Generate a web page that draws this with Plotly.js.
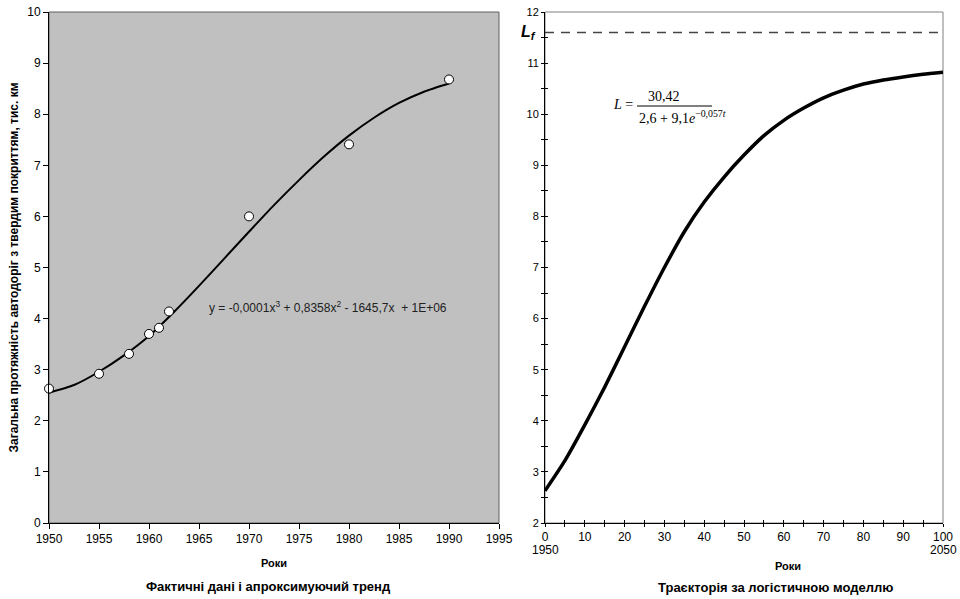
<!DOCTYPE html>
<html>
<head>
<meta charset="utf-8">
<script src="https://cdn.plot.ly/plotly-3.0.1.min.js"></script>
<style>
html,body{margin:0;padding:0;background:#fff;}
#chart{width:960px;height:599px;}
</style>
</head>
<body>
<div id="chart"></div>
<script>
// ---- Left chart: actual data and approximating trend ----
const factYears = [1950, 1955, 1958, 1960, 1961, 1962, 1970, 1980, 1990];
const factValues = [2.63, 2.92, 3.31, 3.70, 3.82, 4.14, 6.00, 7.41, 8.68];
const trendYears = [1950, 1952.5, 1955, 1957.5, 1960, 1962.5, 1965, 1967.5, 1970, 1972.5, 1975, 1977.5, 1980, 1982.5, 1985, 1987.5, 1990];
const trendValues = [2.55, 2.70, 2.96, 3.28, 3.66, 4.13, 4.64, 5.17, 5.70, 6.22, 6.71, 7.17, 7.58, 7.93, 8.22, 8.44, 8.60];
const leftTitleY = 'Загальна протяжність автодоріг з твердим покриттям, тис. км';
const leftTitleX = 'Роки';
const leftCaption = 'Фактичні дані і апроксимуючий тренд';
const trendEquation = 'y = -0,0001x<sup>3</sup> + 0,8358x<sup>2</sup> - 1645,7x  + 1E+06';

// ---- Right chart: logistic model trajectory ----
const modelT = [0, 5, 10, 15, 20, 25, 30, 35, 40, 45, 50, 55, 60, 65, 70, 75, 80, 85, 90, 95, 100];
const modelL = [2.63, 3.22, 3.92, 4.66, 5.45, 6.24, 7.00, 7.70, 8.28, 8.77, 9.20, 9.58, 9.88, 10.12, 10.32, 10.47, 10.59, 10.67, 10.73, 10.78, 10.82];
const limitT = [0, 100];
const limitL = [11.6, 11.6];
const yearLabels = ['1950', '2050'];
const rightTitleX = 'Роки';
const rightCaption = 'Траєкторія за логістичною моделлю';

const W = 960, H = 599;
const px = v => v / W;
const py = v => 1 - v / H;
const yDom = [py(523), py(12)];
const F = 'Liberation Sans, Arial, sans-serif';
const SERIF = 'Liberation Serif, Times New Roman, serif';

const traces = [
  {x: trendYears, y: trendValues, xaxis: 'x', yaxis: 'y', mode: 'lines',
   line: {color: '#000', width: 2, shape: 'spline', smoothing: 0.6}, hoverinfo: 'skip', showlegend: false},
  {x: factYears, y: factValues, xaxis: 'x', yaxis: 'y', mode: 'markers', cliponaxis: false,
   marker: {size: 9, color: '#fff', line: {color: '#000', width: 1}}, showlegend: false},
  {x: limitT, y: limitL, xaxis: 'x2', yaxis: 'y2', mode: 'lines',
   line: {color: '#444', width: 1.5, dash: '9px,7px'}, showlegend: false},
  {x: modelT, y: modelL, xaxis: 'x2', yaxis: 'y2', mode: 'lines',
   line: {color: '#000', width: 3.5, shape: 'spline', smoothing: 0.6}, showlegend: false},
  {x: [], y: [], xaxis: 'x3', yaxis: 'y3', mode: 'lines', showlegend: false}
];

const baseAxis = {
  showgrid: false, zeroline: false, showline: true, linecolor: '#000', linewidth: 1,
  ticks: 'outside', tickcolor: '#000', tickwidth: 1, fixedrange: true
};

const layout = {
  width: W, height: H,
  margin: {l: 0, r: 0, t: 0, b: 0},
  paper_bgcolor: '#fff', plot_bgcolor: 'rgba(0,0,0,0)',
  showlegend: false,
  font: {family: F, color: '#000', size: 12},
  xaxis: Object.assign({}, baseAxis, {
    domain: [px(49), px(499)], range: [1950, 1995], tick0: 1950, dtick: 5, ticklen: 5,
    anchor: 'y', tickfont: {family: F, size: 12, color: '#000'},
    title: {text: '<b>' + leftTitleX + '</b>', font: {family: F, size: 11, color: '#000'}, standoff: 13}
  }),
  yaxis: Object.assign({}, baseAxis, {
    domain: yDom, range: [0, 10], tick0: 0, dtick: 1, ticklen: 5,
    anchor: 'x', tickfont: {family: F, size: 12, color: '#000'},
    title: {text: '<b>' + leftTitleY + '</b>', font: {family: F, size: 12, color: '#000'}, standoff: 6}
  }),
  xaxis2: Object.assign({}, baseAxis, {
    domain: [px(545), px(943)], range: [0, 100], tick0: 0, dtick: 10, ticklen: 3,
    anchor: 'y2', tickfont: {family: F, size: 12, color: '#000'},
    minor: {dtick: 5, ticks: 'outside', ticklen: 3, tickcolor: '#000'}
  }),
  yaxis2: Object.assign({}, baseAxis, {
    domain: yDom, range: [2, 12], tick0: 2, dtick: 1, ticklen: 3,
    anchor: 'x2', tickfont: {family: F, size: 11, color: '#000'},
    minor: {dtick: 0.5, ticks: 'outside', ticklen: 3, tickcolor: '#000'}
  }),
  xaxis3: {
    overlaying: 'x2', anchor: 'y2', range: [0, 100], tick0: 0, dtick: 5, ticks: 'inside', ticklen: 3,
    tickcolor: '#000', showticklabels: false, showgrid: false, zeroline: false, showline: false, fixedrange: true
  },
  yaxis3: {
    overlaying: 'y2', anchor: 'x2', range: [2, 12], tick0: 2, dtick: 0.5, ticks: 'inside', ticklen: 3,
    tickcolor: '#000', showticklabels: false, showgrid: false, zeroline: false, showline: false, fixedrange: true
  },
  shapes: [
    {type: 'rect', xref: 'x domain', yref: 'y domain', x0: 0, x1: 1, y0: 0, y1: 1,
     fillcolor: '#C0C0C0', line: {color: '#606060', width: 1}, layer: 'below'},
    {type: 'rect', xref: 'x2 domain', yref: 'y2 domain', x0: 0, x1: 1, y0: 0, y1: 1,
     fillcolor: 'rgba(0,0,0,0)', line: {color: '#808080', width: 1}, layer: 'below'},
    // fraction bar of the model formula
    {type: 'line', xref: 'paper', yref: 'paper', x0: px(637), x1: px(712), y0: py(106), y1: py(106),
     line: {color: '#000', width: 1}}
  ],
  annotations: [
    {text: trendEquation, xref: 'paper', yref: 'paper', x: px(207), y: py(307), xanchor: 'left', yanchor: 'middle',
     showarrow: false, font: {family: F, size: 12, color: '#222'}},
    {text: '<b>' + leftCaption + '</b>', xref: 'paper', yref: 'paper', x: px(268), y: py(586), xanchor: 'center', yanchor: 'middle',
     showarrow: false, font: {family: F, size: 13, color: '#000'}},
    {text: '<b>' + rightTitleX + '</b>', xref: 'paper', yref: 'paper', x: px(788), y: py(566), xanchor: 'center', yanchor: 'middle',
     showarrow: false, font: {family: F, size: 11, color: '#000'}},
    {text: '<b>' + rightCaption + '</b>', xref: 'paper', yref: 'paper', x: px(775), y: py(587), xanchor: 'center', yanchor: 'middle',
     showarrow: false, font: {family: F, size: 13, color: '#000'}},
    {text: yearLabels[0], xref: 'x2', yref: 'paper', x: modelT[0], y: py(550), xanchor: 'center', yanchor: 'middle',
     showarrow: false, font: {family: F, size: 12, color: '#000'}},
    {text: yearLabels[1], xref: 'x2', yref: 'paper', x: modelT[modelT.length - 1], y: py(550), xanchor: 'center', yanchor: 'middle',
     showarrow: false, font: {family: F, size: 12, color: '#000'}},
    {text: '<b><i>L</i></b><sub><b><i>f</i></b></sub>', xref: 'paper', yref: 'y2', x: px(538), y: limitL[0], xanchor: 'right', yanchor: 'middle',
     showarrow: false, font: {family: F, size: 16, color: '#000'}},
    {text: '<i>L</i> =', xref: 'paper', yref: 'paper', x: px(635), y: py(105), xanchor: 'right', yanchor: 'middle',
     showarrow: false, font: {family: SERIF, size: 14, color: '#000'}},
    {text: '30,42', xref: 'paper', yref: 'paper', x: px(664), y: py(96), xanchor: 'center', yanchor: 'middle',
     showarrow: false, font: {family: SERIF, size: 14, color: '#000'}},
    {text: '2,6 + 9,1<i>e</i><sup>−0,057<i>t</i></sup>', xref: 'paper', yref: 'paper', x: px(637), y: py(117), xanchor: 'left', yanchor: 'middle',
     showarrow: false, font: {family: SERIF, size: 14, color: '#000'}}
  ]
};

Plotly.newPlot('chart', traces, layout, {staticPlot: true, displayModeBar: false});
</script>
</body>
</html>
